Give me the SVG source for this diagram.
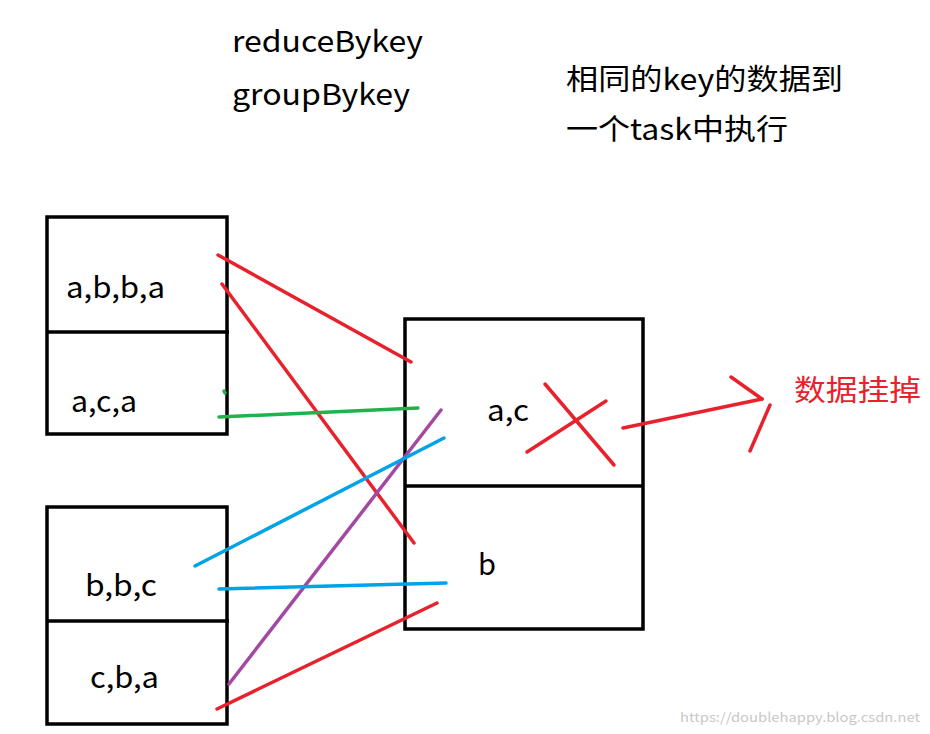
<svg xmlns="http://www.w3.org/2000/svg" width="930" height="734" viewBox="0 0 930 734">
<style>
text{font-family:"Noto Sans CJK SC","Noto Sans",sans-serif;font-size:29px;fill:#000}
.box{fill:none;stroke:#000;stroke-width:3.5}
.l{stroke-width:3.5;stroke-linecap:round;fill:none}
.r{stroke:#e8222d}.g{stroke:#22b14c}.b{stroke:#00a2e8}.p{stroke:#a349a4}
</style>
<rect width="930" height="734" fill="#fff"/>
<text x="232" y="52" textLength="191" lengthAdjust="spacingAndGlyphs">reduceBykey</text>
<text x="232" y="105" textLength="178" lengthAdjust="spacingAndGlyphs">groupBykey</text>
<text x="566" y="90" textLength="277" lengthAdjust="spacingAndGlyphs">相同的key的数据到</text>
<text x="566" y="140" textLength="222" lengthAdjust="spacingAndGlyphs">一个task中执行</text>
<g id="box1"><rect class="box" x="47" y="217" width="180" height="217"/><line class="box" x1="47" y1="332" x2="229" y2="332"/>
<text x="66" y="298" textLength="99" lengthAdjust="spacingAndGlyphs">a,b,b,a</text><text x="71" y="412" textLength="66" lengthAdjust="spacingAndGlyphs">a,c,a</text></g>
<g id="box2"><rect class="box" x="47" y="507" width="180" height="217"/><line class="box" x1="47" y1="621" x2="229" y2="621"/>
<text x="85" y="596" textLength="72" lengthAdjust="spacingAndGlyphs">b,b,c</text><text x="90" y="688" textLength="69" lengthAdjust="spacingAndGlyphs">c,b,a</text></g>
<g id="box3"><rect class="box" x="405" y="319" width="238" height="310"/><line class="box" x1="405" y1="486" x2="643" y2="486"/>
<text x="487" y="421" textLength="42" lengthAdjust="spacingAndGlyphs">a,c</text><text x="478" y="575">b</text></g>
<g id="connectors">
<line class="l r" x1="218" y1="255" x2="411" y2="362"/>
<line class="l r" x1="222" y1="284" x2="414" y2="543"/>
<line class="l g" x1="219" y1="417" x2="418" y2="408"/>
<line class="l g" x1="224" y1="391" x2="225" y2="393"/>
<line class="l p" x1="229" y1="684" x2="441" y2="410"/>
<line class="l b" x1="195" y1="566" x2="444" y2="438"/>
<line class="l b" x1="219" y1="589" x2="446" y2="583"/>
<line class="l r" x1="217" y1="709" x2="437" y2="603"/>
<line class="l r" x1="545" y1="384" x2="614" y2="465"/>
<line class="l r" x1="527" y1="452" x2="606" y2="401"/>
<line class="l r" x1="623" y1="428" x2="762" y2="399"/>
<line class="l r" x1="731" y1="377" x2="762" y2="399"/>
<line class="l r" x1="750" y1="451" x2="770" y2="405"/>
</g>
<text x="794" y="401" textLength="127" lengthAdjust="spacingAndGlyphs" style="fill:#e8222d">数据挂掉</text>
<text x="680" y="722" textLength="240" lengthAdjust="spacingAndGlyphs" style="font-size:13px;fill:#c8c8c8">https://doublehappy.blog.csdn.net</text>
</svg>
